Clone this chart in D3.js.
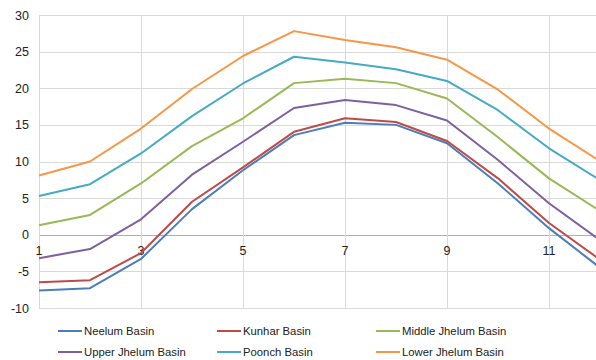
<!DOCTYPE html>
<html><head><meta charset="utf-8">
<script src="https://cdn.jsdelivr.net/npm/d3@7"></script>
<style>body{margin:0;background:#fff}svg{display:block;font-family:"Liberation Sans",Arial,sans-serif}</style>
</head><body><svg id="c" width="596" height="360"></svg>
<script>
const months = [1,2,3,4,5,6,7,8,9,10,11,12];
const seriesNames = ["Neelum Basin","Kunhar Basin","Middle Jhelum Basin","Upper Jhelum Basin","Poonch Basin","Lower Jhelum Basin"];
const neelum = [-7.6,-7.3,-3.3,3.5,8.8,13.6,15.3,15.0,12.5,7.0,0.9,-4.5];
const kunhar = [-6.5,-6.2,-2.5,4.5,9.2,14.05,15.9,15.4,12.8,7.7,1.6,-3.4];
const middleJhelum = [1.3,2.7,7.0,12.1,15.9,20.7,21.3,20.7,18.6,13.3,7.7,3.25];
const upperJhelum = [-3.2,-1.95,2.1,8.2,12.7,17.3,18.4,17.7,15.6,10.2,4.3,-0.75];
const poonch = [5.3,6.9,11.1,16.2,20.65,24.3,23.5,22.6,21.0,17.0,11.8,7.45];
const lowerJhelum = [8.1,10.0,14.5,19.9,24.4,27.8,26.6,25.6,23.9,19.8,14.5,10.05];
const colors = ["#4a7ebb","#be4b48","#98b954","#7d60a0","#46aac5","#f79646"];
const yTicks = [-10,-5,0,5,10,15,20,25,30];
const xTicks = [1,3,5,7,9,11];
const allSeries = [neelum,kunhar,middleJhelum,upperJhelum,poonch,lowerJhelum];

const svg = d3.select("#c");
const x = d3.scaleLinear().domain([1,12]).range([39,600]);
const y = d3.scaleLinear().domain([-10,30]).range([308,15]);

const g = svg.append("g");
g.selectAll("line.h").data(yTicks).join("line")
  .attr("x1",39).attr("x2",596).attr("y1",d=>Math.round(y(d))+0.5).attr("y2",d=>Math.round(y(d))+0.5)
  .attr("stroke",d=>d===0?"#b0b0b0":"#d9d9d9").attr("stroke-width",1);
g.selectAll("line.v").data(xTicks).join("line")
  .attr("x1",d=>Math.round(x(d))+0.5).attr("x2",d=>Math.round(x(d))+0.5)
  .attr("y1",y(30)).attr("y2",y(-10))
  .attr("stroke","#d9d9d9").attr("stroke-width",1);
g.selectAll("text.y").data(yTicks).join("text")
  .attr("x",29).attr("y",d=>y(d)+4.5).attr("text-anchor","end")
  .attr("font-size",12.5).attr("fill","#222").text(d=>d);
g.selectAll("text.x").data(xTicks).join("text")
  .attr("x",d=>x(d)).attr("y",y(0)+20).attr("text-anchor","middle")
  .attr("font-size",12.5).attr("fill","#222").text(d=>d);

const line = d3.line().x((d,i)=>x(months[i])).y(d=>y(d));
svg.append("defs").append("clipPath").attr("id","clip").append("rect")
  .attr("x",0).attr("y",0).attr("width",596).attr("height",360);
svg.append("g").attr("clip-path","url(#clip)").selectAll("path").data(allSeries).join("path")
  .attr("d",line).attr("fill","none").attr("stroke",(d,i)=>colors[i]).attr("stroke-width",2)
  .attr("stroke-linejoin","round");

const legX = [58,217,376], legY = [331,352];
const leg = svg.append("g").selectAll("g").data(seriesNames).join("g")
  .attr("transform",(d,i)=>`translate(${legX[i%3]},${legY[Math.floor(i/3)]})`);
leg.append("line").attr("x1",0).attr("x2",24).attr("y1",0).attr("y2",0)
  .attr("stroke",(d,i)=>colors[i]).attr("stroke-width",2);
leg.append("text").attr("x",26).attr("y",4.2).attr("font-size",11.3).attr("fill","#222").text(d=>d);
</script></body></html>
